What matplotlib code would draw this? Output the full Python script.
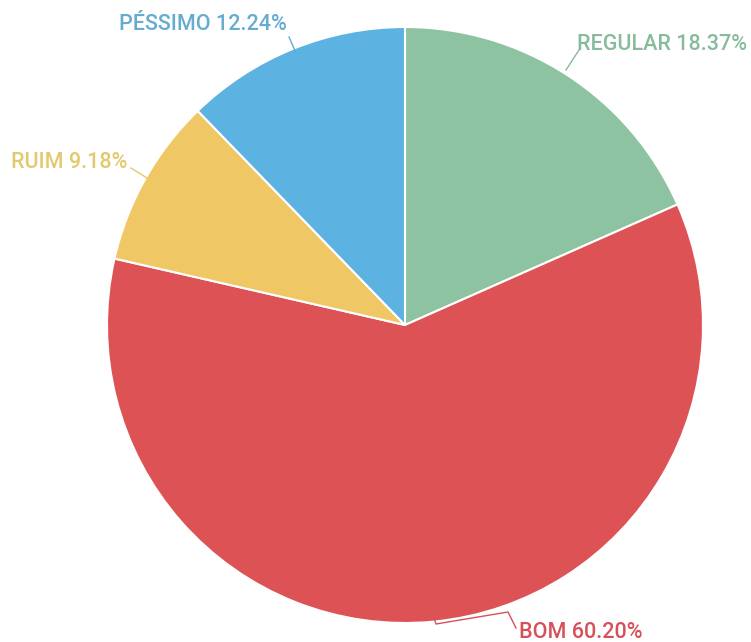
import matplotlib.pyplot as plt

# Dados do gráfico
categorias = ['REGULAR', 'BOM', 'RUIM', 'PÉSSIMO']
percentuais = [18.37, 60.20, 9.18, 12.24]
cores = ['#8ec3a2', '#dd5355', '#efc865', '#5cb3e2']
cores_texto = ['#88bb9c', '#d6505a', '#e2c96c', '#66abd0']

W, H = 751, 642
fig = plt.figure(figsize=(W / 100, H / 100), dpi=100)
ax = fig.add_axes([0, 0, 1, 1])

cx, cy, r = 405, H - 325, 298
ax.pie(percentuais, colors=cores, startangle=90, counterclock=False,
       center=(cx, cy), radius=r,
       wedgeprops=dict(edgecolor='white', linewidth=1.5))
ax.set_xlim(0, W)
ax.set_ylim(0, H)
ax.set_aspect('equal')
ax.axis('off')

# posições dos rótulos (pixels) e linhas de ligação
rotulos = {
    'REGULAR': dict(xy=(577, 45), ha='left', linha=[(566, 70), (579, 50)]),
    'BOM': dict(xy=(519, 633), ha='left',
                linha=[(434, 618), (436, 624), (508, 612), (516, 628)]),
    'RUIM': dict(xy=(11, 163), ha='left', linha=[(147, 178), (131, 168)]),
    'PÉSSIMO': dict(xy=(119, 24), ha='left', linha=[(296, 53), (289, 37)]),
}

for cat, pct, ct in zip(categorias, percentuais, cores_texto):
    info = rotulos[cat]
    xs = [p[0] for p in info['linha']]
    ys = [H - p[1] for p in info['linha']]
    ax.plot(xs, ys, color=ct, lw=1)
    ax.text(info['xy'][0], H - info['xy'][1], f'{cat} {pct:.2f}%',
            ha=info['ha'], va='center', color=ct, fontsize=15.5,
            fontfamily='Roboto', fontweight='medium')

fig.savefig('out.png', dpi=100, facecolor='white')
